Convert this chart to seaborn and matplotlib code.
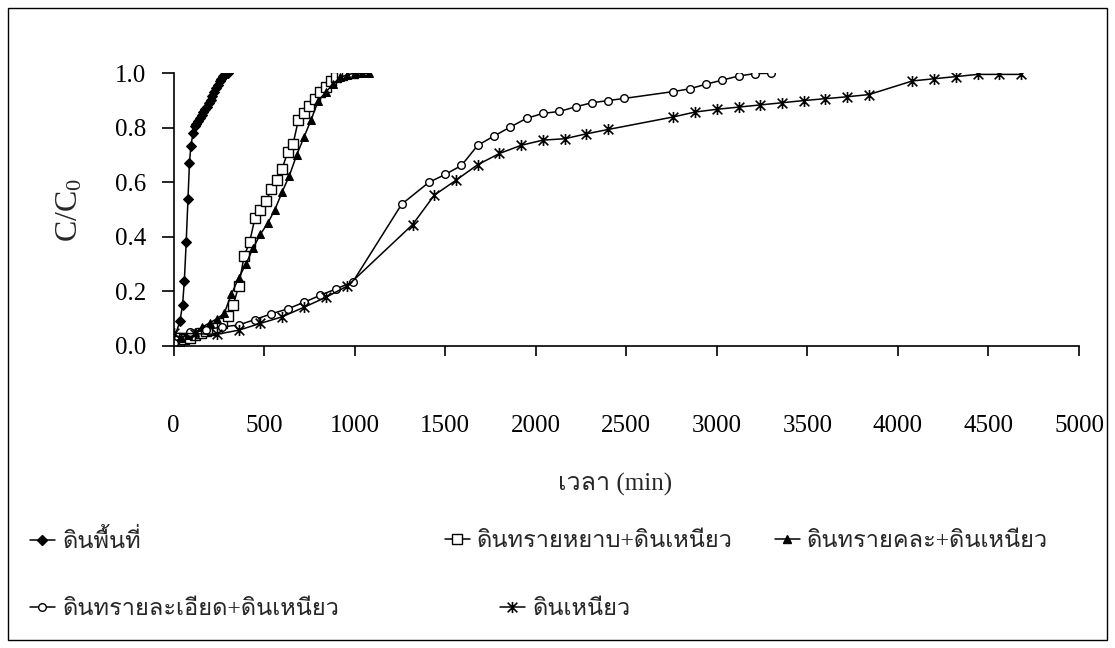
import numpy as np
import pandas as pd
import matplotlib
matplotlib.use("Agg")
import matplotlib.pyplot as plt
import seaborn as sns
from matplotlib import font_manager as fm
from matplotlib.ft2font import FT2Font
from matplotlib.path import Path
from matplotlib.patches import Rectangle
from matplotlib.lines import Line2D
from matplotlib.ticker import FormatStrFormatter

# ---------------- data ----------------
labels = ["ดินพื้นที่", "ดินทรายหยาบ+ดินเหนียว", "ดินทรายคละ+ดินเหนียว",
          "ดินทรายละเอียด+ดินเหนียว", "ดินเหนียว"]

t_field = [0, 35, 50, 60, 70, 80, 88, 96, 108, 116, 125, 135, 145, 155, 165,
           175, 185, 195, 205, 215, 225, 235, 245, 255, 265, 275, 285, 295, 300]
c_field = [0.02, 0.09, 0.15, 0.24, 0.38, 0.54, 0.67, 0.735, 0.78, 0.805, 0.815,
           0.826, 0.837, 0.848, 0.858, 0.868, 0.878, 0.89, 0.902, 0.915, 0.93,
           0.945, 0.958, 0.97, 0.98, 0.99, 0.997, 1.0, 1.0]

t_coarse = [0, 30, 60, 90, 120, 150, 180, 210, 240, 270, 300, 330, 360, 390, 420,
            450, 480, 510, 540, 570, 600, 630, 660, 690, 720, 750, 780, 810, 840,
            870, 900, 930, 960, 990]
c_coarse = [0.01, 0.02, 0.025, 0.03, 0.04, 0.047, 0.055, 0.06, 0.067, 0.085, 0.11,
            0.15, 0.22, 0.33, 0.38, 0.47, 0.50, 0.53, 0.575, 0.61, 0.65, 0.71,
            0.74, 0.83, 0.855, 0.88, 0.905, 0.93, 0.95, 0.97, 0.985, 0.995, 1.0, 1.0]

t_mixed = [0, 40, 80, 120, 160, 200, 240, 280, 320, 360, 400, 440, 480, 520, 560,
           600, 640, 680, 720, 760, 800, 840, 880, 920, 960, 1000, 1040, 1080]
c_mixed = [0.01, 0.03, 0.04, 0.05, 0.07, 0.085, 0.10, 0.12, 0.19, 0.25, 0.30, 0.36,
           0.41, 0.45, 0.50, 0.565, 0.625, 0.70, 0.765, 0.83, 0.90, 0.93, 0.96,
           0.985, 0.995, 1.0, 1.0, 1.0]

t_fine = [0, 90, 180, 270, 360, 450, 540, 630, 720, 810, 900, 990, 1260, 1410, 1500,
          1590, 1680, 1770, 1860, 1950, 2040, 2130, 2220, 2310, 2400, 2490, 2760,
          2850, 2940, 3030, 3120, 3210, 3300]
c_fine = [0.012, 0.05, 0.06, 0.07, 0.077, 0.097, 0.118, 0.136, 0.16, 0.186, 0.21,
          0.235, 0.52, 0.60, 0.629, 0.662, 0.736, 0.77, 0.803, 0.835, 0.853, 0.86,
          0.877, 0.892, 0.90, 0.908, 0.933, 0.943, 0.96, 0.975, 0.99, 0.999, 1.0]

t_clay = [0, 120, 240, 360, 480, 600, 720, 840, 960, 1320, 1440, 1560, 1680, 1800,
          1920, 2040, 2160, 2280, 2400, 2760, 2880, 3000, 3120, 3240, 3360, 3480,
          3600, 3720, 3840, 4080, 4200, 4320, 4440, 4560, 4680]
c_clay = [0.047, 0.045, 0.043, 0.058, 0.083, 0.107, 0.142, 0.178, 0.22, 0.445,
          0.553, 0.608, 0.665, 0.706, 0.736, 0.755, 0.76, 0.778, 0.794, 0.84,
          0.858, 0.868, 0.876, 0.884, 0.892, 0.90, 0.907, 0.914, 0.922, 0.972,
          0.98, 0.988, 0.996, 0.996, 0.996]

x_ticks = [0, 500, 1000, 1500, 2000, 2500, 3000, 3500, 4000, 4500, 5000]
y_ticks = [0.0, 0.2, 0.4, 0.6, 0.8, 1.0]

# ---------------- fonts ----------------
thai_font = None
for f in fm.fontManager.ttflist:
    try:
        cmap = FT2Font(f.fname).get_charmap()
    except Exception:
        continue
    if 0x0E14 in cmap and 0x0E35 in cmap:
        thai_font = f.name
        break

sns.set_style("ticks")
fam = ["Liberation Serif"] + ([thai_font] if thai_font else []) + ["DejaVu Sans"]
plt.rcParams["font.family"] = fam
plt.rcParams["mathtext.default"] = "regular"

W, H = 1115, 648
fig = plt.figure(figsize=(W / 100, H / 100), dpi=100)
ax = fig.add_axes([173.5 / W, 1 - 346 / H, (1079 - 173.5) / W, (346 - 73.3) / H])

star = Path([(-1, -1), (1, 1), (-1, 1), (1, -1), (0, -1.15), (0, 1.15)],
            [Path.MOVETO, Path.LINETO, Path.MOVETO, Path.LINETO, Path.MOVETO, Path.LINETO])

styles = [
    dict(marker="D", ms=5.5, mfc="black", mec="black"),
    dict(marker="s", ms=7, mfc="white", mec="black", mew=1.0),
    dict(marker="^", ms=6, mfc="black", mec="black"),
    dict(marker="o", ms=5.5, mfc="white", mec="black", mew=1.0),
    dict(marker=star, ms=8, mfc="none", mec="black", mew=1.2),
]
series = [(t_field, c_field), (t_coarse, c_coarse), (t_mixed, c_mixed),
          (t_fine, c_fine), (t_clay, c_clay)]

for (tx, cy), lab, st in zip(series, labels, styles):
    df = pd.DataFrame({"t": tx, "c": cy})
    sns.lineplot(data=df, x="t", y="c", ax=ax, color="black", lw=1.1,
                 estimator=None, sort=False, legend=False, **st)

ax.set_xlim(0, 5000)
ax.set_ylim(0, 1.0)
ax.set_xticks(x_ticks)
ax.set_yticks(y_ticks)
ax.yaxis.set_major_formatter(FormatStrFormatter("%.1f"))
sns.despine(ax=ax)
for s in ("left", "bottom"):
    ax.spines[s].set_linewidth(1.2)
    ax.spines[s].set_color("black")
ax.tick_params(axis="x", length=7, width=1.2, direction="out", pad=43,
               labelsize=18, colors="black")
ax.tick_params(axis="y", length=8.5, width=1.2, direction="out", pad=11,
               labelsize=18, colors="black")
ax.set_xlabel("เวลา (min)", fontsize=18, labelpad=30)
ax.xaxis.set_label_coords(0.488, -0.465)
ax.set_ylabel("C/C$_0$", fontsize=23, labelpad=22)
ax.grid(False)

# legend, placed entry by entry as in the reference
pos = [(30, 541), (445, 541), (775, 541), (30, 609), (500, 609)]
for (px, py), lab, st in zip(pos, labels, styles):
    h = Line2D([], [], color="black", lw=1.1, **st)
    fig.legend(handles=[h], labels=[lab], loc="center left",
               bbox_to_anchor=(px / W, 1 - py / H), frameon=False,
               borderaxespad=0, borderpad=0, handlelength=1.05,
               handletextpad=0.3, fontsize=17)

fig.patches.append(Rectangle((8 / W, 8 / H), (W - 16) / W, (H - 16) / H,
                             transform=fig.transFigure, fill=False,
                             edgecolor="black", lw=1.0))

fig.savefig("out.png", dpi=100, facecolor="white")
